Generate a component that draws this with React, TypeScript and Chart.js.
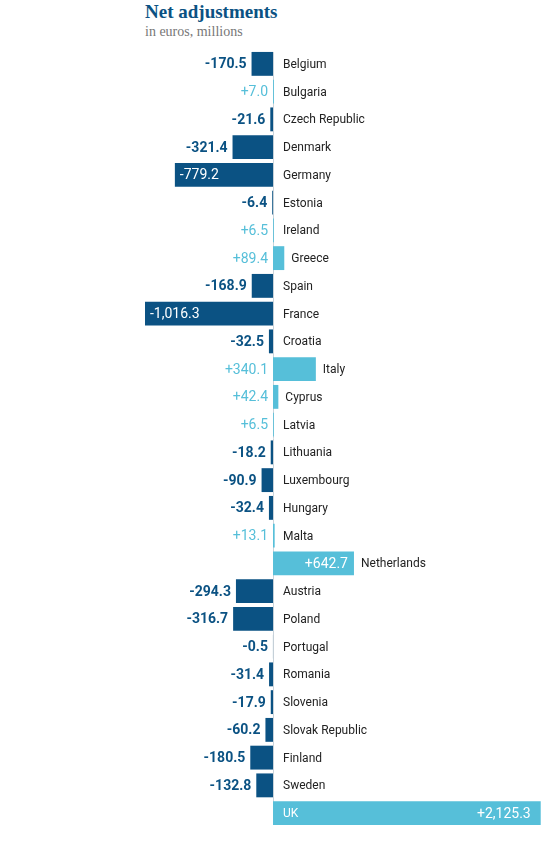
import React, { useEffect, useRef } from "react";
import { Chart, registerables } from "chart.js";

Chart.register(...registerables);

const countries: string[] = [
  "Belgium", "Bulgaria", "Czech Republic", "Denmark", "Germany", "Estonia", "Ireland",
  "Greece", "Spain", "France", "Croatia", "Italy", "Cyprus", "Latvia", "Lithuania",
  "Luxembourg", "Hungary", "Malta", "Netherlands", "Austria", "Poland", "Portugal",
  "Romania", "Slovenia", "Slovak Republic", "Finland", "Sweden", "UK",
];

const adjustments: number[] = [
  -170.5, 7.0, -21.6, -321.4, -779.2, -6.4, 6.5,
  89.4, -168.9, -1016.3, -32.5, 340.1, 42.4, 6.5, -18.2,
  -90.9, -32.4, 13.1, 642.7, -294.3, -316.7, -0.5,
  -31.4, -17.9, -60.2, -180.5, -132.8, 2125.3,
];

const DARK = "#0b5283";
const LIGHT = "#56bfd9";
const FONT = "Roboto, 'Open Sans', sans-serif";

function fmt(v: number): string {
  const s = Math.abs(v).toLocaleString("en-US", { minimumFractionDigits: 1, maximumFractionDigits: 1 });
  return (v >= 0 ? "+" : "-") + s;
}

const labelPlugin = {
  id: "labels",
  beforeDatasetsDraw(chart: any) {
    const { ctx, chartArea, scales } = chart;
    const zx = scales.x.getPixelForValue(0);
    ctx.save();
    ctx.strokeStyle = "#c9d3da";
    ctx.lineWidth = 1;
    ctx.beginPath();
    ctx.moveTo(Math.round(zx) + 0.5, chartArea.top + 2);
    ctx.lineTo(Math.round(zx) + 0.5, chartArea.bottom - 2);
    ctx.stroke();
    ctx.restore();
  },
  afterDatasetsDraw(chart: any) {
    const { ctx, scales } = chart;
    const meta = chart.getDatasetMeta(0);
    const zx = scales.x.getPixelForValue(0);
    ctx.save();
    ctx.textBaseline = "middle";
    meta.data.forEach((bar: any, i: number) => {
      const v = adjustments[i];
      const y = bar.y + 1;
      const end = bar.x;
      const name = countries[i];
      const val = fmt(v);
      if (v < 0) {
        if (Math.abs(v) > 700) {
          ctx.font = `14px ${FONT}`;
          ctx.fillStyle = "#ffffff";
          ctx.textAlign = "left";
          ctx.fillText(val, end + 5, y);
        } else {
          ctx.font = `bold 14px ${FONT}`;
          ctx.fillStyle = DARK;
          ctx.textAlign = "right";
          ctx.fillText(val, end - 5, y);
        }
        ctx.font = `12px ${FONT}`;
        ctx.fillStyle = "#222222";
        ctx.textAlign = "left";
        ctx.fillText(name, zx + 10, y);
      } else if (v > 1000) {
        ctx.font = `12px ${FONT}`;
        ctx.fillStyle = "#ffffff";
        ctx.textAlign = "left";
        ctx.fillText(name, zx + 10, y);
        ctx.font = `14px ${FONT}`;
        ctx.textAlign = "right";
        ctx.fillText(val, end - 10, y);
      } else {
        ctx.font = `14px ${FONT}`;
        if (v > 500) {
          ctx.fillStyle = "#ffffff";
          ctx.textAlign = "right";
          ctx.fillText(val, end - 6, y);
        } else {
          ctx.fillStyle = LIGHT;
          ctx.textAlign = "right";
          ctx.fillText(val, zx - 5, y);
        }
        ctx.font = `12px ${FONT}`;
        ctx.fillStyle = "#222222";
        ctx.textAlign = "left";
        ctx.fillText(name, Math.max(zx + 10, end + 7), y);
      }
    });
    ctx.restore();
  },
};

export default function App() {
  const ref = useRef<HTMLCanvasElement | null>(null);
  useEffect(() => {
    if (!ref.current) return;
    const chart = new Chart(ref.current, {
      type: "bar",
      data: {
        labels: countries,
        datasets: [
          {
            data: adjustments,
            backgroundColor: adjustments.map((v) => (v < 0 ? DARK : LIGHT)),
            borderWidth: 0,
            barPercentage: 0.86,
            categoryPercentage: 1,
          },
        ],
      },
      options: {
        indexAxis: "y",
        animation: false,
        responsive: false,
        maintainAspectRatio: false,
        layout: { padding: { top: 50, bottom: 20, left: 0, right: 0 } },
        plugins: { legend: { display: false }, tooltip: { enabled: false }, title: { display: false } },
        scales: {
          x: { display: false, min: -2167.5, max: 2199 },
          y: { display: false, offset: true },
        },
      },
      plugins: [labelPlugin],
    });
    return () => chart.destroy();
  }, []);

  return (
    <div style={{ position: "absolute", left: 0, top: 0, width: 550, height: 847, background: "#fff" }}>
      <div
        style={{
          position: "absolute",
          left: 145,
          top: 1,
          fontFamily: "'Liberation Serif', serif",
          fontWeight: "bold",
          fontSize: 19,
          color: DARK,
          whiteSpace: "nowrap",
        }}
      >
        Net adjustments
      </div>
      <div
        style={{
          position: "absolute",
          left: 145,
          top: 24,
          fontFamily: "'Liberation Serif', serif",
          fontSize: 14,
          color: "#777",
          whiteSpace: "nowrap",
        }}
      >
        in euros, millions
      </div>
      <canvas ref={ref} width={550} height={847} style={{ position: "absolute", left: 0, top: 0 }} />
    </div>
  );
}
